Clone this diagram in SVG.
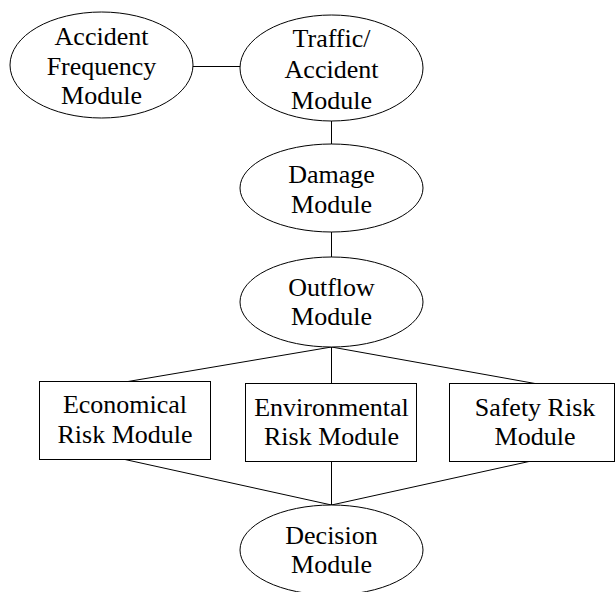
<svg xmlns="http://www.w3.org/2000/svg" width="616" height="592" viewBox="0 0 616 592">
  <style>
    .node { fill: #ffffff; stroke: #000000; stroke-width: 1; }
    .edge { fill: none; stroke: #000000; stroke-width: 1; }
    .label { font-family: "Liberation Serif", "Times New Roman", serif; font-size: 26px; fill: #000000; text-anchor: middle; }
  </style>
  <rect width="616" height="592" fill="#ffffff"/>

  <g id="connectors">
    <line class="edge" x1="193" y1="66.5" x2="240" y2="66.5"/>
    <line class="edge" x1="331.5" y1="121" x2="331.5" y2="144"/>
    <line class="edge" x1="331.5" y1="232" x2="331.5" y2="257"/>
    <line class="edge" x1="331.5" y1="347" x2="128" y2="381.5"/>
    <line class="edge" x1="331.5" y1="347" x2="331.5" y2="383.5"/>
    <line class="edge" x1="331.5" y1="347" x2="535" y2="383.5"/>
    <line class="edge" x1="125" y1="459.5" x2="331.5" y2="505"/>
    <line class="edge" x1="331.5" y1="461.5" x2="331.5" y2="505"/>
    <line class="edge" x1="529" y1="461.5" x2="331.5" y2="505"/>
  </g>

  <g id="accident-frequency">
    <ellipse class="node" cx="101.5" cy="65" rx="91.5" ry="53"/>
    <text class="label" x="101.5" y="45">Accident</text>
    <text class="label" x="101.5" y="75">Frequency</text>
    <text class="label" x="101.5" y="104">Module</text>
  </g>

  <g id="traffic-accident">
    <ellipse class="node" cx="331.5" cy="68" rx="91.5" ry="53"/>
    <text class="label" x="331.5" y="47">Traffic/</text>
    <text class="label" x="331.5" y="78">Accident</text>
    <text class="label" x="331.5" y="109">Module</text>
  </g>

  <g id="damage">
    <ellipse class="node" cx="331.5" cy="188" rx="91.5" ry="44"/>
    <text class="label" x="331.5" y="183">Damage</text>
    <text class="label" x="331.5" y="213">Module</text>
  </g>

  <g id="outflow">
    <ellipse class="node" cx="331.5" cy="302" rx="91.5" ry="45"/>
    <text class="label" x="331.5" y="296">Outflow</text>
    <text class="label" x="331.5" y="325">Module</text>
  </g>

  <g id="economical-risk">
    <rect class="node" x="39.5" y="381.5" width="171" height="78"/>
    <text class="label" x="125" y="413">Economical</text>
    <text class="label" x="125" y="443">Risk Module</text>
  </g>

  <g id="environmental-risk">
    <rect class="node" x="245.5" y="383.5" width="171" height="78"/>
    <text class="label" x="331.5" y="416">Environmental</text>
    <text class="label" x="331.5" y="445">Risk Module</text>
  </g>

  <g id="safety-risk">
    <rect class="node" x="449.5" y="383.5" width="165" height="78"/>
    <text class="label" x="535" y="416">Safety Risk</text>
    <text class="label" x="535" y="445">Module</text>
  </g>

  <g id="decision">
    <ellipse class="node" cx="331.5" cy="550" rx="91.5" ry="45"/>
    <text class="label" x="331.5" y="544">Decision</text>
    <text class="label" x="331.5" y="573">Module</text>
  </g>
</svg>
